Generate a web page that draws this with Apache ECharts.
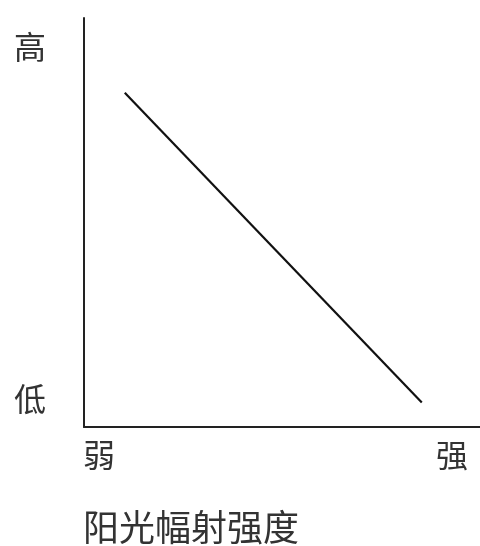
<!DOCTYPE html>
<html><head><meta charset="utf-8">
<script src="https://cdn.jsdelivr.net/npm/echarts@6/dist/echarts.min.js"></script>
<style>html,body{margin:0;padding:0;background:#fff}#c{width:480px;height:546px}</style>
</head><body><div id="c"></div>
<script>
const xData = [10.3, 85.3];
const yData = [81.7, 6];
const xTickValues = [3.8, 92.9];
const xTickLabels = ['弱', '强'];
const yTickValues = [93, 7];
const yTickLabels = ['高', '低'];
const xTitle = '阳光幅射强度';

const font = '"Noto Sans CJK SC", sans-serif';
const chart = echarts.init(document.getElementById('c'), null, {renderer: 'canvas'});
chart.setOption({
  animation: false,
  backgroundColor: '#fff',
  title: {
    text: xTitle, left: 78, top: 504,
    textStyle: {fontFamily: font, fontSize: 36, fontWeight: 'normal', color: '#333'}
  },
  grid: {left: 84, top: 18, right: 0, bottom: 119, containLabel: false},
  xAxis: {
    type: 'value', min: 0, max: 100,
    axisLine: {show: true, lineStyle: {color: '#222', width: 2}},
    axisTick: {show: false},
    splitLine: {show: false},
    axisLabel: {
      customValues: xTickValues,
      formatter: v => xTickLabels[xTickValues.indexOf(v)] || '',
      fontFamily: font, fontSize: 32, color: '#333', margin: 12, showMinLabel: true, showMaxLabel: true
    }
  },
  yAxis: {
    type: 'value', min: 0, max: 100,
    axisLine: {show: true, lineStyle: {color: '#222', width: 2}},
    axisTick: {show: false},
    splitLine: {show: false},
    axisLabel: {
      customValues: yTickValues,
      formatter: v => yTickLabels[yTickValues.indexOf(v)] || '',
      fontFamily: font, fontSize: 32, color: '#333', margin: 38
    }
  },
  series: [{
    type: 'line',
    data: xData.map((x, i) => [x, yData[i]]),
    symbol: 'none',
    lineStyle: {color: '#111', width: 2.2}
  }]
});
</script></body></html>
